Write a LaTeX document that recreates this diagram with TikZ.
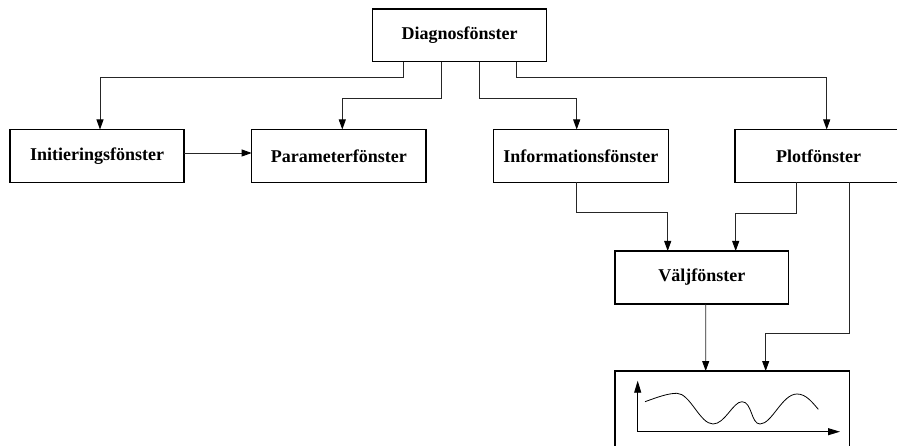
\documentclass[tikz,border=0pt]{standalone}
\usepackage{fontspec}
\setmainfont{Liberation Serif}
\usetikzlibrary{arrows.meta}
\begin{document}
\begin{tikzpicture}[x=1pt,y=-1pt,
  win/.style={draw, line width=1.5pt, inner sep=0pt, outer sep=0pt,
    minimum height=53pt, font=\fontsize{18}{20}\selectfont\bfseries},
  conn/.style={draw=black!85, line width=0.9pt,
    -{Triangle[length=10pt,width=7pt,color=black]}},
  axis/.style={line width=0.9pt, -{Triangle[length=12pt,width=7pt]}}]
\useasboundingbox (0,0) rectangle (897,446);

% windows
\node[win, minimum width=174pt, minimum height=52.7pt] (diag) at (459.7,35.3) {Diagnosfönster};
\node[win, minimum width=174pt]   (init)  at (97,156)     {Initieringsfönster};
\node[win, minimum width=174.3pt] (param) at (338.8,156)  {Parameterfönster};
\node[win, minimum width=175pt]   (info)  at (580.8,156)  {Informationsfönster};
\node[win, minimum width=167pt]   (plot)  at (818.5,156)  {Plotfönster};
\node[win, minimum width=173.7pt] (valj)  at (701.85,277.5) {Väljfönster};
\node[win, minimum width=234.3pt, minimum height=80pt] (graph) at (732.15,411) {};

% connections
\draw[conn] ([xshift=-56.4pt]diag.south) -- ++(0,15.6) -| ([xshift=3pt]init.north);
\draw[conn] ([xshift=-18.7pt]diag.south) -- ++(0,37.3) -| ([xshift=3.5pt]param.north);
\draw[conn] ([xshift=19.3pt]diag.south) -- ++(0,37.3) -| ([xshift=-4.1pt]info.north);
\draw[conn] ([xshift=57pt]diag.south) -- ++(0,15.6) -| ([xshift=8.2pt]plot.north);
\draw[conn] ([yshift=3pt]init.east) -- ([yshift=3pt]param.west);
\draw[conn] ([xshift=-4.1pt]info.south) -- ++(0,30.3) -| ([xshift=-34.15pt]valj.north);
\draw[conn] ([xshift=-21.8pt]plot.south) -- ++(0,31) -| ([xshift=33.85pt]valj.north);
\draw[conn] ([xshift=3.85pt]valj.south) -- ([xshift=-26.45pt]graph.north);
\draw[conn] ([xshift=30.8pt]plot.south) -- ++(0,151) -| ([xshift=33.55pt]graph.north);

% small plot inside the graph window
\coordinate (origin) at (637.7,431.7);
\draw[axis] (origin) -- (637.7,380.7);
\draw[axis] (origin) -- (840,431.7);
\draw[line width=0.8pt]
  (645,401.7) .. controls (658,397) and (668,393.3) .. (677,393.3)
  .. controls (690,393.3) and (700,424) .. (713,424)
  .. controls (725,424) and (733,401.7) .. (742,401.7)
  .. controls (752,401.7) and (751,424) .. (760,424)
  .. controls (772,424) and (782,394) .. (797,394)
  .. controls (806,394) and (812,402) .. (818.3,409.3);
\end{tikzpicture}
\end{document}
